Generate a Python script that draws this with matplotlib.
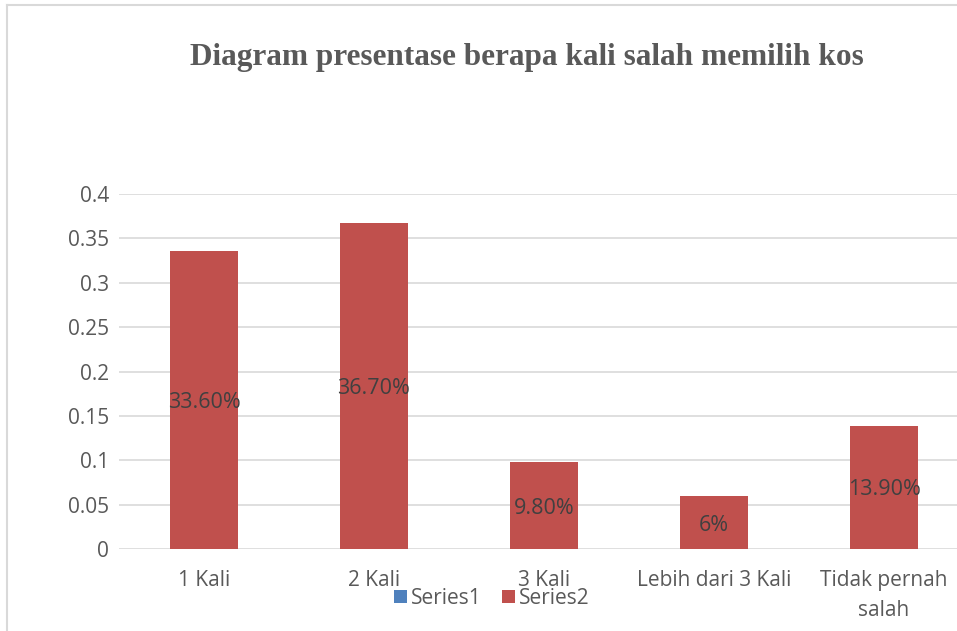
import matplotlib
matplotlib.use("Agg")
import matplotlib.pyplot as plt
from matplotlib.patches import Patch
from matplotlib.lines import Line2D

categories = ["1 Kali", "2 Kali", "3 Kali", "Lebih dari 3 Kali", "Tidak pernah\nsalah"]
series2 = [0.336, 0.367, 0.098, 0.06, 0.139]
labels2 = ["33.60%", "36.70%", "9.80%", "6%", "13.90%"]
yticks = [0, 0.05, 0.1, 0.15, 0.2, 0.25, 0.3, 0.35, 0.4]
ytick_labels = ["0", "0.05", "0.1", "0.15", "0.2", "0.25", "0.3", "0.35", "0.4"]
title = "Diagram presentase berapa kali salah memilih kos"

W, H = 957, 631
fig = plt.figure(figsize=(W / 100, H / 100), dpi=100)
fig.patch.set_facecolor("white")

left, right, top, bottom = 119, 969, 194, 549
ax = fig.add_axes([left / W, 1 - bottom / H, (right - left) / W, (bottom - top) / H])
x = list(range(len(categories)))
ax.bar(x, series2, width=0.4, color="#C0504D", zorder=3)
ax.set_xlim(-0.5, len(categories) - 0.5)
ax.set_ylim(0, 0.4)
ax.set_yticks(yticks)
ax.set_yticklabels(ytick_labels)
ax.set_xticks(x)
ax.set_xticklabels(categories, linespacing=1.55)
for s in ax.spines.values():
    s.set_visible(False)
ax.grid(axis="y", color="#D9D9D9", linewidth=1.2, zorder=0)
ax.tick_params(axis="both", length=0, labelsize=15, colors="#595959", labelfontfamily="Open Sans")
ax.tick_params(axis="y", pad=7)
ax.tick_params(axis="x", pad=15)

for xi, v, lab in zip(x, series2, labels2):
    t = ax.text(xi, v / 2, lab, ha="center", va="center", fontsize=15.5,
                color="#404040", family="Open Sans", zorder=4)
    t.set_y(v / 2 - 0.003)

fig.text(527 / W, 1 - 58 / H, title, ha="center", va="center", fontsize=22.5,
         fontweight="bold", color="#595959", family="Liberation Serif")

handles = [Patch(facecolor="#4F81BD"), Patch(facecolor="#C0504D")]
fig.legend(handles, ["Series1", "Series2"], loc="center", bbox_to_anchor=(492 / W, 1 - 598 / H),
           ncol=2, frameon=False, handlelength=0.6, handleheight=0.6, handletextpad=0.2,
           columnspacing=1.0, prop={"family": "Open Sans", "size": 15}, labelcolor="#595959")

fig.add_artist(Line2D([7 / W, 7 / W], [0, 1 - 5 / H], transform=fig.transFigure, color="#D9D9D9", lw=1.5))
fig.add_artist(Line2D([7 / W, 1], [1 - 5 / H, 1 - 5 / H], transform=fig.transFigure, color="#D9D9D9", lw=1.5))

fig.savefig("out.png", dpi=100)
